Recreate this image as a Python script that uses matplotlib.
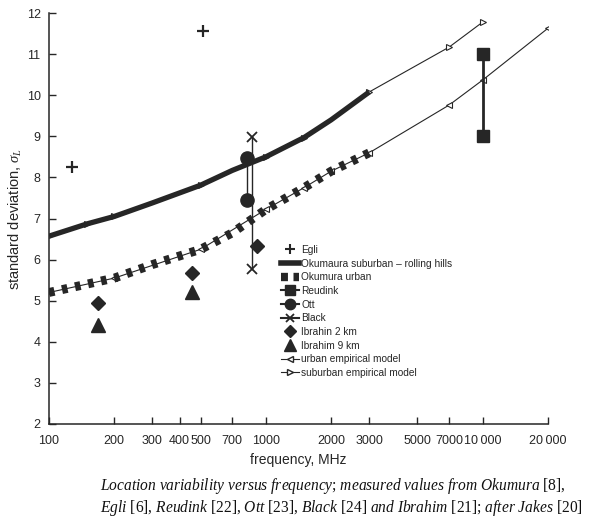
import matplotlib
matplotlib.use('Agg')
import matplotlib.pyplot as plt
from matplotlib.lines import Line2D

# ── 設定 ─────────────────────────────────────────────────────────────
plt.rcParams['font.family'] = ['Liberation Sans', 'DejaVu Sans']
plt.rcParams['mathtext.fontset'] = 'custom'
plt.rcParams['mathtext.it'] = 'Liberation Serif:italic'
plt.rcParams['mathtext.rm'] = 'Liberation Serif'
plt.rcParams['lines.scale_dashes'] = False
INK = '#262626'

# ── データ ─────────────────────────────────────────────────────
egli_f = [128, 513]
egli_v = [8.25, 11.56]

okum_sub_f = [100, 150, 200, 300, 500, 700, 1000, 1500, 2000, 3000]
okum_sub_v = [6.57, 6.87, 7.05, 7.38, 7.81, 8.17, 8.5, 8.97, 9.4, 10.08]

okum_urb_f = [100, 200, 300, 500, 700, 1000, 1500, 2000, 3000]
okum_urb_v = [5.2, 5.55, 5.88, 6.25, 6.65, 7.22, 7.75, 8.15, 8.6]

reudink_f = [10000, 10000]
reudink_v = [11.0, 9.0]

ott_f = [815, 815]
ott_v = [8.47, 7.45]

black_f = [860, 860]
black_v = [8.98, 5.77]

ibr2_f = [168, 456, 909]
ibr2_v = [4.94, 5.67, 6.33]

ibr9_f = [168, 456]
ibr9_v = [4.41, 5.21]

urb_model_f = [100, 200, 500, 1000, 1500, 2000, 3000, 7000, 10000, 20000]
urb_model_v = [5.2, 5.55, 6.25, 7.22, 7.75, 8.15, 8.6, 9.76, 10.37, 11.63]

sub_model_f = [100, 150, 200, 500, 1000, 1500, 3000, 7000, 10000]
sub_model_v = [6.57, 6.87, 7.05, 7.81, 8.5, 8.97, 10.08, 11.17, 11.78]

xticks = [100, 200, 300, 400, 500, 700, 1000, 2000, 3000, 5000, 7000, 10000, 20000]
xticklabels = ['100', '200', '300', '400', '500', '700', '1000', '2000', '3000',
               '5000', '7000', '10\u2009000', '20\u2009000']

# ── レイアウト ───────────────────────────────────────────────────────
fig = plt.figure(figsize=(5.94, 5.16), dpi=100)
ax = fig.add_axes([49 / 594, 1 - 424 / 516, 499 / 594, 411 / 516])

model_kw = dict(color=INK, lw=0.8, ms=4.5, mfc='white', mec=INK, mew=0.8)
ax.plot(urb_model_f, urb_model_v, marker='<', **model_kw, zorder=2)
ax.plot(sub_model_f, sub_model_v, marker='>', **model_kw, zorder=2)

ax.plot(okum_sub_f, okum_sub_v, color=INK, lw=3.8, solid_capstyle='butt',
        solid_joinstyle='round', zorder=3)
ax.plot(okum_urb_f, okum_urb_v, color=INK, lw=6.4, dashes=(4.0, 5.6),
        dash_capstyle='butt', zorder=3)

ax.plot(egli_f, egli_v, ls='none', marker='+', ms=8, mew=1.6, color=INK, zorder=4)
ax.plot(reudink_f, reudink_v, color=INK, lw=2.0, marker='s', ms=8.5, zorder=4)
ax.plot(ott_f, ott_v, color=INK, lw=1.0, marker='o', ms=9.5, zorder=4)
ax.plot(black_f, black_v, color=INK, lw=1.0, marker='x', ms=6.5, mew=1.3, zorder=4)
ax.plot(ibr2_f, ibr2_v, ls='none', marker='D', ms=7.5, color=INK, zorder=4)
ax.plot(ibr9_f, ibr9_v, ls='none', marker='^', ms=10, color=INK, zorder=4)

ax.set_xscale('log')
ax.set_xlim(100, 20000)
ax.set_ylim(2, 12)
ax.set_xticks(xticks)
ax.set_xticklabels(xticklabels, fontsize=9)
ax.xaxis.set_minor_locator(matplotlib.ticker.NullLocator())
ax.set_yticks(range(2, 13))
ax.tick_params(axis='y', labelsize=9, pad=6)
ax.tick_params(axis='x', pad=8)
ax.tick_params(direction='in', length=5, width=1.0, color=INK, labelcolor=INK)
ax.spines[['top', 'right']].set_visible(False)
for s in ('left', 'bottom'):
    ax.spines[s].set_linewidth(1.1)
    ax.spines[s].set_color(INK)

ax.set_xlabel('frequency, MHz', fontsize=10, color=INK, labelpad=4)
ax.set_ylabel(r'standard deviation, $\sigma_L$', fontsize=10.5, color=INK)
ax.yaxis.set_label_coords(-0.05, 0.5)

# ── 凡例 ─────────────────────────────────────────────────────────────
handles = [
    Line2D([], [], ls='none', marker='+', ms=7, mew=1.5, color=INK),
    Line2D([], [], color=INK, lw=4),
    Line2D([], [], color=INK, lw=6, dashes=(5, 4)),
    Line2D([], [], color=INK, lw=1.5, marker='s', ms=7),
    Line2D([], [], color=INK, lw=1.5, marker='o', ms=7.5),
    Line2D([], [], color=INK, lw=1.5, marker='x', ms=6, mew=1.3),
    Line2D([], [], ls='none', marker='D', ms=6.5, color=INK),
    Line2D([], [], ls='none', marker='^', ms=8, color=INK),
    Line2D([], [], color=INK, lw=0.8, marker='<', ms=4.5, mfc='white', mec=INK),
    Line2D([], [], color=INK, lw=0.8, marker='>', ms=4.5, mfc='white', mec=INK),
]
labels = ['Egli', 'Okumaura suburban \u2013 rolling hills', 'Okumura urban', 'Reudink',
          'Ott', 'Black', 'Ibrahin 2 km', 'Ibrahim 9 km', 'urban empirical model',
          'suburban empirical model']
fig.legend(handles, labels, loc='upper left', bbox_to_anchor=(281 / 594, 1 - 245 / 516),
           bbox_transform=fig.transFigure, frameon=False, fontsize=7.3,
           handlelength=1.8, handletextpad=0.2, labelspacing=0.36,
           borderpad=0, borderaxespad=0, labelcolor=INK)

# ── キャプション ─────────────────────────────────────────────────────
def it(s):
    return r'$\mathit{' + s.replace(' ', r'\ ') + '}$'

cap1 = it('Location variability versus frequency') + '; ' + it('measured values from Okumura') + ' [8],'
cap2 = (it('Egli') + ' [6], ' + it('Reudink') + ' [22], ' + it('Ott') + ' [23], '
        + it('Black') + ' [24] ' + it('and Ibrahim') + ' [21]; ' + it('after Jakes') + ' [20]')
fig.text(100 / 594, 1 - 486.5 / 516, cap1, fontsize=11.2, family='Liberation Serif',
         va='center', ha='left', color='#111111')
fig.text(100 / 594, 1 - 507.5 / 516, cap2, fontsize=11.2, family='Liberation Serif',
         va='center', ha='left', color='#111111')

fig.savefig('out.png', dpi=100, facecolor='white')
